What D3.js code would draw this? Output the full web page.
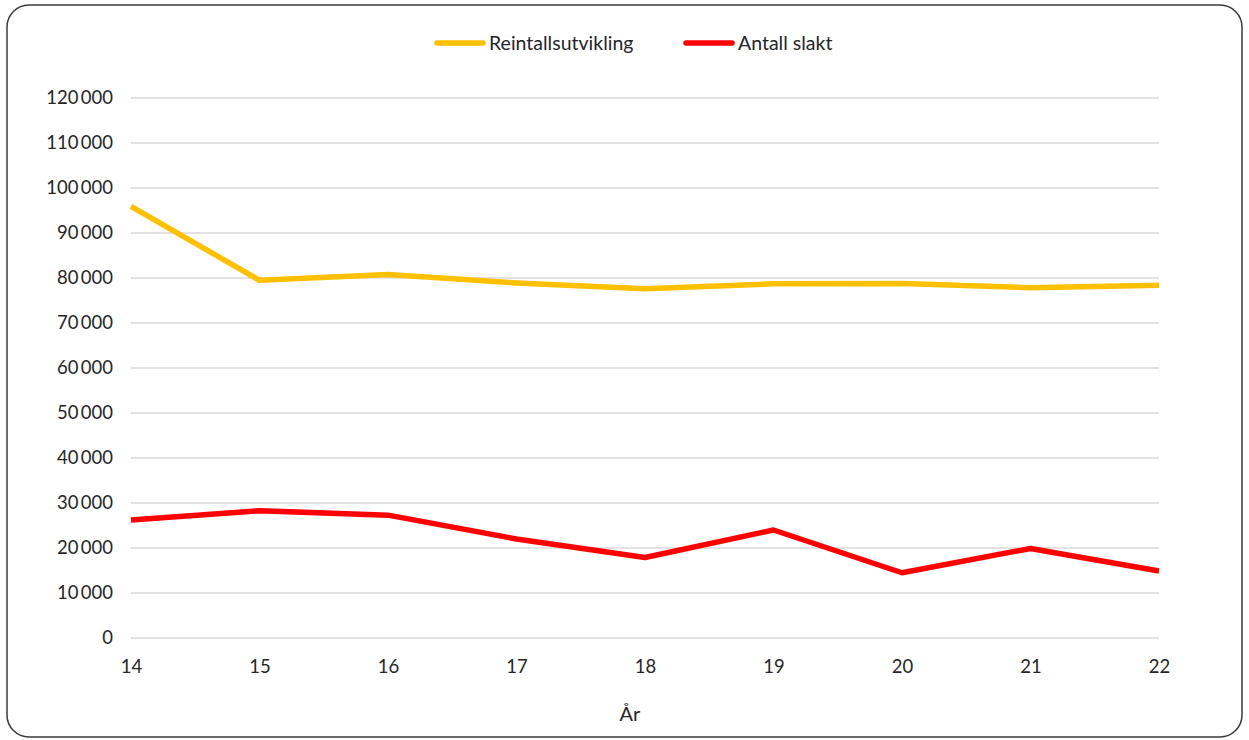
<!DOCTYPE html>
<html>
<head>
<meta charset="utf-8">
<script src="https://cdn.jsdelivr.net/npm/d3@7/dist/d3.min.js"></script>
<style>
  html, body { margin: 0; padding: 0; background: #fff; }
  svg { display: block; }
  text { font-family: Lato, "Open Sans", "Liberation Sans", sans-serif; fill: #262626; }
</style>
</head>
<body>
<svg id="chart" width="1249" height="740"></svg>
<script>
// Years (two-digit) on the x axis
const years = [14, 15, 16, 17, 18, 19, 20, 21, 22];
// Reindeer herd size
const reintall = [95900, 79500, 80800, 78900, 77600, 78700, 78800, 77850, 78400];
// Number slaughtered
const slakt = [26200, 28300, 27300, 22000, 17900, 24000, 14500, 19900, 14900];
const yTicks = [0, 10000, 20000, 30000, 40000, 50000, 60000, 70000, 80000, 90000, 100000, 110000, 120000];

const seriesNames = ["Reintallsutvikling", "Antall slakt"];
const seriesColors = ["#FFC000", "#FF0000"];

const svg = d3.select("#chart");
const W = 1249, H = 740;

// outer rounded frame
svg.append("rect")
  .attr("x", 7).attr("y", 5)
  .attr("width", W - 14).attr("height", H - 8)
  .attr("rx", 22).attr("ry", 22)
  .attr("fill", "#fff")
  .attr("stroke", "#3a3a3a")
  .attr("stroke-width", 1.5);

const x = d3.scaleLinear().domain([14, 22]).range([131, 1159]);
const y = d3.scaleLinear().domain([0, 120000]).range([638, 98]);

const fmt = v => d3.format(",")(v).replace(/,/g, "\u2009");

// horizontal gridlines
svg.append("g")
  .selectAll("line")
  .data(yTicks)
  .join("line")
  .attr("x1", x(14)).attr("x2", x(22))
  .attr("y1", d => y(d)).attr("y2", d => y(d))
  .attr("stroke", "#D9D9D9")
  .attr("stroke-width", 1.5);

// y axis labels
const yAxis = d3.axisLeft(y).tickValues(yTicks).tickFormat(fmt).tickSize(0).tickPadding(18);
const gy = svg.append("g").attr("transform", `translate(${x(14)},0)`).call(yAxis);
gy.select(".domain").remove();
gy.selectAll("text").style("font-size", "18.5px").attr("fill", "#262626");

// x axis labels
const xAxis = d3.axisBottom(x).tickValues(years).tickFormat(d3.format("d")).tickSize(0).tickPadding(22);
const gx = svg.append("g").attr("transform", `translate(0,${y(0)})`).call(xAxis);
gx.select(".domain").remove();
gx.selectAll("text").style("font-size", "18.5px").attr("fill", "#262626");

// x axis title
svg.append("text")
  .attr("x", 630).attr("y", 721)
  .attr("text-anchor", "middle")
  .style("font-size", "20px")
  .text("År");

// lines
const line = d3.line()
  .x((d, i) => x(years[i]))
  .y(d => y(d));

[reintall, slakt].forEach((vals, k) => {
  svg.append("path")
    .datum(vals)
    .attr("d", line)
    .attr("fill", "none")
    .attr("stroke", seriesColors[k])
    .attr("stroke-width", 5.5)
    .attr("stroke-linejoin", "round");
});

// legend
const legendX = [437, 686];
seriesNames.forEach((name, k) => {
  const g = svg.append("g").attr("transform", `translate(${legendX[k]},43)`);
  g.append("line")
    .attr("x1", 0).attr("x2", 46)
    .attr("y1", 0).attr("y2", 0)
    .attr("stroke", seriesColors[k])
    .attr("stroke-width", 5.5)
    .attr("stroke-linecap", "round");
  g.append("text")
    .attr("x", 52).attr("y", 6.5)
    .style("font-size", "19.5px")
    .text(name);
});
</script>
</body>
</html>
